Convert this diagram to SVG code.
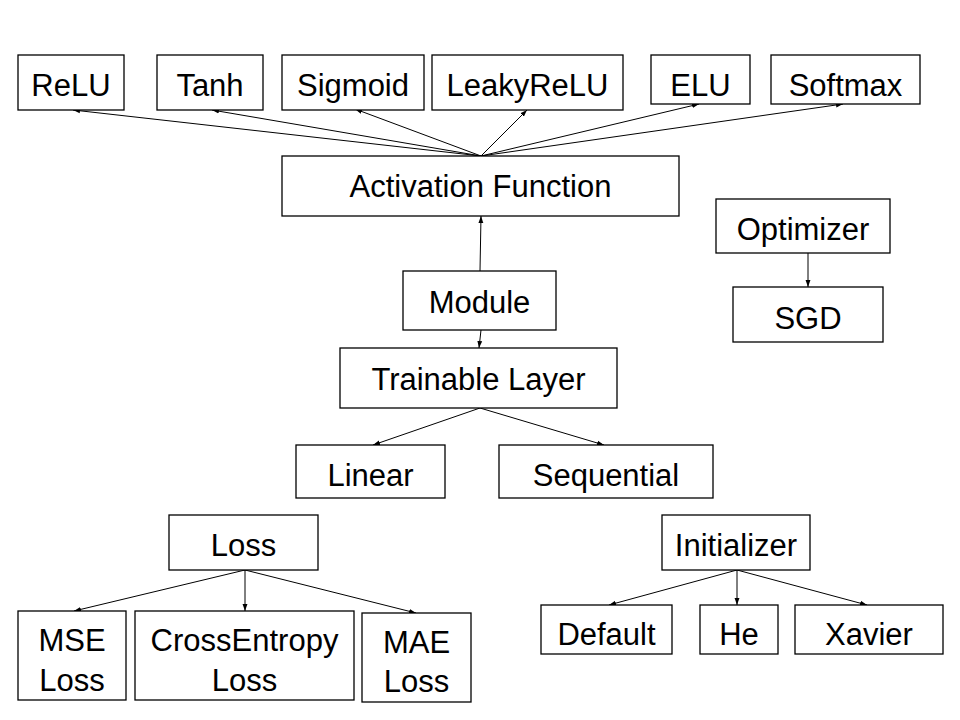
<svg xmlns="http://www.w3.org/2000/svg" width="960" height="720" viewBox="0 0 960 720">
<style>
.box{fill:#fff;stroke:#000;stroke-width:1.3}
.t{font-family:"Liberation Sans",Arial,sans-serif;font-size:31px;fill:#000;text-anchor:middle}
.c{stroke:#000;stroke-width:1;fill:none;marker-end:url(#ah)}
</style>
<defs>
<marker id="ah" viewBox="0 0 10 10" refX="10" refY="5" markerWidth="7" markerHeight="7" markerUnits="userSpaceOnUse" orient="auto">
<path d="M0,1.5 L10,5 L0,8.5 z" fill="#000"/>
</marker>
</defs>
<rect width="960" height="720" fill="#fff"/>
<g id="connectors">
<line class="c" x1="481" y1="156" x2="73" y2="110"/>
<line class="c" x1="481" y1="156" x2="212" y2="110"/>
<line class="c" x1="481" y1="156" x2="355" y2="109"/>
<line class="c" x1="481" y1="156" x2="527" y2="110"/>
<line class="c" x1="481" y1="156" x2="699" y2="104"/>
<line class="c" x1="481" y1="156" x2="843" y2="104"/>
<line class="c" x1="480" y1="271" x2="481" y2="216"/>
<line class="c" x1="481" y1="330" x2="479" y2="348"/>
<line class="c" x1="480" y1="408" x2="373" y2="445"/>
<line class="c" x1="480" y1="408" x2="604" y2="445"/>
<line class="c" x1="808" y1="253" x2="808" y2="287"/>
<line class="c" x1="245" y1="570" x2="74" y2="611"/>
<line class="c" x1="245" y1="570" x2="245" y2="611"/>
<line class="c" x1="245" y1="570" x2="416" y2="613"/>
<line class="c" x1="737" y1="570" x2="609" y2="605"/>
<line class="c" x1="737" y1="570" x2="737" y2="605"/>
<line class="c" x1="737" y1="570" x2="867" y2="605"/>
</g>
<g id="relu"><rect class="box" x="18" y="55" width="106" height="55"/><text class="t" x="71" y="95.5">ReLU</text></g>
<g id="tanh"><rect class="box" x="157" y="55" width="106" height="55"/><text class="t" x="210" y="95.5">Tanh</text></g>
<g id="sigmoid"><rect class="box" x="282" y="55" width="142" height="55"/><text class="t" x="353" y="95.5">Sigmoid</text></g>
<g id="leakyrelu"><rect class="box" x="432" y="55" width="191" height="55"/><text class="t" x="527.5" y="95.5">LeakyReLU</text></g>
<g id="elu"><rect class="box" x="651" y="55" width="99" height="49"/><text class="t" x="700.5" y="96">ELU</text></g>
<g id="softmax"><rect class="box" x="771" y="55" width="149" height="49"/><text class="t" x="845.5" y="96">Softmax</text></g>
<g id="activation"><rect class="box" x="282" y="156" width="397" height="60"/><text class="t" x="480.5" y="197">Activation Function</text></g>
<g id="optimizer"><rect class="box" x="716" y="199" width="174" height="54"/><text class="t" x="803" y="240">Optimizer</text></g>
<g id="sgd"><rect class="box" x="733" y="287" width="150" height="55"/><text class="t" x="808" y="328.5">SGD</text></g>
<g id="module"><rect class="box" x="403" y="271" width="153" height="59"/><text class="t" x="479.5" y="312.5">Module</text></g>
<g id="trainable"><rect class="box" x="340" y="348" width="277" height="60"/><text class="t" x="478.5" y="390">Trainable Layer</text></g>
<g id="linear"><rect class="box" x="296" y="445" width="149" height="53"/><text class="t" x="370.5" y="485.5">Linear</text></g>
<g id="sequential"><rect class="box" x="499" y="445" width="214" height="53"/><text class="t" x="606" y="485.5">Sequential</text></g>
<g id="loss"><rect class="box" x="169" y="515" width="149" height="55"/><text class="t" x="243.5" y="555.5">Loss</text></g>
<g id="mse"><rect class="box" x="18" y="611" width="108" height="89"/><text class="t" x="72" y="651">MSE</text><text class="t" x="72" y="691">Loss</text></g>
<g id="crossentropy"><rect class="box" x="135" y="611" width="219" height="89"/><text class="t" x="244.5" y="651">CrossEntropy</text><text class="t" x="244.5" y="691">Loss</text></g>
<g id="mae"><rect class="box" x="362" y="613" width="109" height="89"/><text class="t" x="416.5" y="653">MAE</text><text class="t" x="416.5" y="692">Loss</text></g>
<g id="initializer"><rect class="box" x="662" y="515" width="148" height="55"/><text class="t" x="736" y="555.5">Initializer</text></g>
<g id="default"><rect class="box" x="541" y="605" width="131" height="49"/><text class="t" x="606.5" y="644.5">Default</text></g>
<g id="he"><rect class="box" x="700" y="605" width="78" height="49"/><text class="t" x="739" y="644.5">He</text></g>
<g id="xavier"><rect class="box" x="795" y="605" width="148" height="49"/><text class="t" x="869" y="644.5">Xavier</text></g>
</svg>
